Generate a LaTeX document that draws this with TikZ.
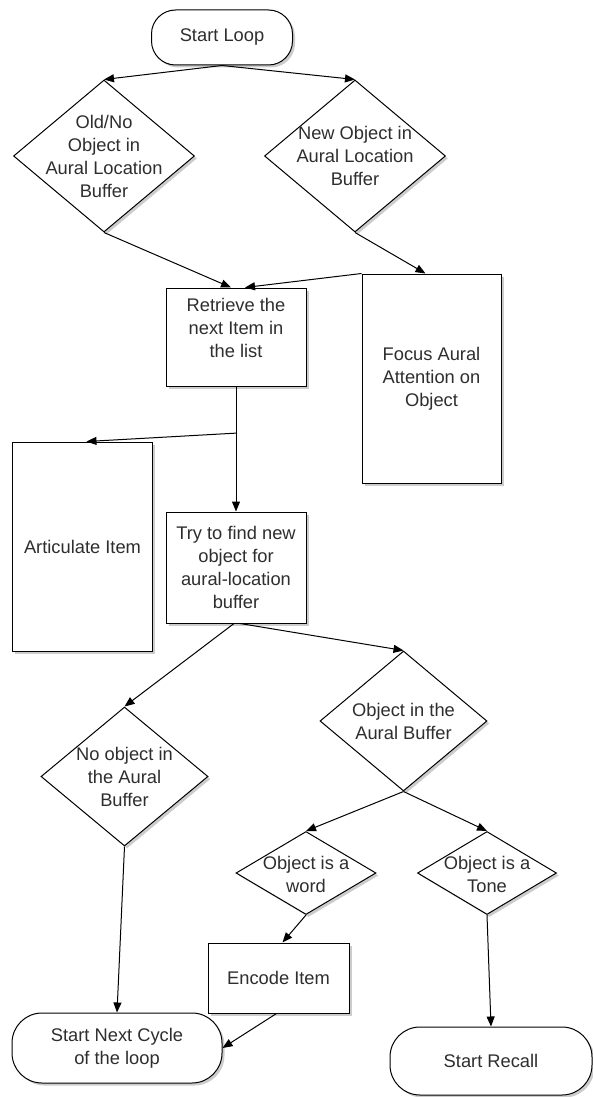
\documentclass[tikz,border=0pt]{standalone}
\usepackage{fontspec}
\setmainfont{Liberation Sans}
\usetikzlibrary{shapes.geometric,arrows.meta,shadows,calc}
\definecolor{txtcol}{gray}{0.18}
\tikzset{
  base/.style={draw=black, line width=1pt, fill=white, inner sep=0pt,
    drop shadow={shadow xshift=2.5pt, shadow yshift=-2.5pt, opacity=0.4, fill=gray}},
  boxn/.style={base, rectangle, align=center, text=txtcol,
    font=\fontsize{18.3}{23}\selectfont},
  term/.style={boxn, rounded corners=28pt},
  dia/.style={base, diamond},
  txt/.style={align=center, text=txtcol, font=\fontsize{18.3}{23}\selectfont, inner sep=0pt},
  conn/.style={line width=1pt, -{Triangle[length=10pt,width=8pt]}},
  plain/.style={line width=1pt}
}
\begin{document}
\begin{tikzpicture}[x=1pt,y=-1pt]
\useasboundingbox (0,0) rectangle (593,1097);

% nodes
\node[term, minimum width=141pt, minimum height=55pt, rounded corners=24pt] (start) at (222,37.5) {Start Loop};
\node[dia, minimum width=181pt, minimum height=152pt] (d1) at (104,156) {};
\node[txt] (d1t) at (d1) {Old/No\\Object in\\Aural Location\\Buffer};
\node[dia, minimum width=181pt, minimum height=152pt] (d2) at (355,156) {};
\node[txt] (d2t) at (d2) {New Object in\\Aural Location\\Buffer};
\node[boxn, minimum width=140pt, minimum height=98pt] (ret) at (236,337) {};
\node[txt] (rett) at ($(ret.center)+(0,-9)$) {Retrieve the\\next Item in\\the list};
\node[boxn, minimum width=139pt, minimum height=209pt] (foc) at (431.5,378.5) {Focus Aural\\Attention on\\Object};
\node[boxn, minimum width=140pt, minimum height=209pt] (art) at (82.5,546.5) {Articulate Item};
\node[boxn, minimum width=140pt, minimum height=111pt] (try) at (236,567.5) {Try to find new\\object for\\aural-location\\buffer};
\node[dia, minimum width=167pt, minimum height=139pt] (d3) at (124.5,776.5) {};
\node[txt] (d3t) at (d3) {No object in\\the Aural\\Buffer};
\node[dia, minimum width=167pt, minimum height=140pt] (d4) at (403.5,721) {};
\node[txt] (d4t) at (d4) {Object in the\\Aural Buffer};
\node[dia, minimum width=140pt, minimum height=83pt] (d5) at (306,873) {};
\node[txt] (d5t) at ($(d5)+(0,1)$) {Object is a\\word};
\node[dia, minimum width=139pt, minimum height=83pt] (d6) at (487,873) {};
\node[txt] (d6t) at ($(d6)+(0,1)$) {Object is a\\Tone};
\node[boxn, minimum width=141pt, minimum height=70pt] (enc) at (278.5,978) {Encode Item};
\node[term, minimum width=210pt, minimum height=70pt, rounded corners=30pt] (snc) at (117,1048) {Start Next Cycle\\of the loop};
\node[term, minimum width=202pt, minimum height=68pt, rounded corners=30pt] (rec) at (491,1061) {Start Recall};

% connectors
\draw[conn] (start.south) -- (d1.north);
\draw[conn] (start.south) -- (d2.north);
\draw[conn] (d1.south) -- ([xshift=-5pt]ret.north);
\draw[conn] (foc.north west) -- ([xshift=9pt]ret.north);
\draw[conn] (d2.south) -- ([xshift=-6pt]foc.north);
\coordinate (br) at ($(ret.south)!0.373!(try.north)$);
\draw[conn] (ret.south) -- (try.north);
\draw[conn] (br) -- ([xshift=4pt]art.north);
\draw[conn] ([xshift=-2pt]try.south) -- (d3.north);
\draw[conn] ([xshift=4pt]try.south) -- (d4.north);
\draw[conn] (d3.south) -- ([xshift=0pt]snc.north);
\draw[conn] (d4.south) -- (d5.north);
\draw[conn] (d4.south) -- (d6.north);
\draw[conn] (d5.south) -- ([xshift=4pt]enc.north);
\draw[conn] ([xshift=-2pt]enc.south) -- (snc.east);
\draw[conn] (d6.south) -- (rec.north);
\end{tikzpicture}
\end{document}
